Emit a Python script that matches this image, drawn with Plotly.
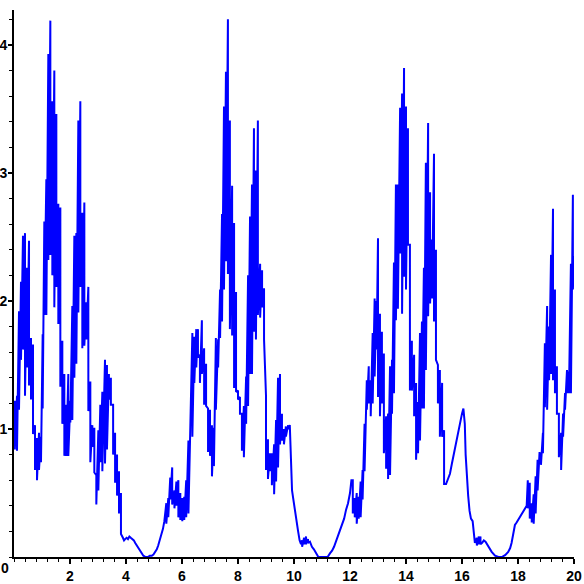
import plotly.graph_objects as go

# Samples: x position, upper and lower value of the trace in that column
x_pts = [0.03, 0.107, 0.179, 0.25, 0.321, 0.393, 0.464, 0.536, 0.607, 0.679, 0.75, 0.821, 0.893, 0.964,
         1.024, 1.083, 1.155, 1.226, 1.298, 1.369, 1.44, 1.512, 1.583, 1.655, 1.726, 1.798, 1.869, 1.94,
         2.012, 2.083, 2.155, 2.226, 2.298, 2.369, 2.44, 2.512, 2.583, 2.655, 2.726, 2.798, 2.869, 2.94,
         3.012, 3.083, 3.155, 3.25, 3.32, 3.39, 3.46, 3.54, 3.61, 3.68, 3.75, 3.82,
         3.89, 3.93, 3.97, 4.02, 4.07, 4.12, 4.17, 4.22, 4.28, 4.33, 4.39, 4.44, 4.50, 4.56, 4.62, 4.70,
         4.78, 4.85, 4.92, 4.98, 5.04, 5.10, 5.15, 5.21, 5.27, 5.32, 5.37,
         5.44, 5.51, 5.58, 5.65, 5.73, 5.80, 5.87, 5.94, 6.01, 6.08, 6.15, 6.23, 6.30, 6.37, 6.44, 6.51,
         6.57, 6.64, 6.71, 6.79, 6.86, 6.93, 7.00, 7.07, 7.14, 7.21, 7.29, 7.36, 7.43, 7.50, 7.57, 7.64,
         7.71, 7.79, 7.86, 7.93, 8.00, 8.07, 8.14, 8.21, 8.29, 8.36, 8.43, 8.50, 8.57, 8.64, 8.71, 8.79,
         8.86, 8.93, 9.00, 9.07, 9.14, 9.21, 9.29, 9.36, 9.43, 9.50, 9.57, 9.64, 9.71, 9.79,
         9.85, 9.87, 9.90, 9.93, 9.97, 10.00, 10.07, 10.14, 10.20, 10.25, 10.29, 10.36, 10.43, 10.50,
         10.57, 10.64, 10.71, 10.79, 10.87, 11.00, 11.20, 11.29, 11.36, 11.43, 11.50, 11.57, 11.64, 11.71,
         11.79, 11.86, 11.93, 12.00, 12.05,
         12.10, 12.17, 12.24, 12.31, 12.38, 12.45, 12.52, 12.60, 12.67, 12.74, 12.81, 12.88, 12.95, 13.00,
         13.07, 13.14, 13.21, 13.29, 13.36, 13.43, 13.50, 13.57, 13.64, 13.71, 13.79, 13.86, 13.93, 14.00,
         14.07, 14.14, 14.21, 14.29, 14.36, 14.43, 14.50, 14.57, 14.64, 14.71, 14.79, 14.86, 14.93, 15.00,
         15.07, 15.14, 15.21, 15.29, 15.36,
         15.43, 15.50, 15.57, 15.64, 15.71, 15.79, 15.86, 15.93, 16.00, 16.05, 16.10, 16.13, 16.17, 16.22,
         16.27, 16.32, 16.38, 16.42, 16.46, 16.53, 16.60, 16.66, 16.72, 16.78, 16.84, 16.94, 17.06, 17.18,
         17.30, 17.42, 17.54, 17.65, 17.72, 17.77, 17.83, 17.89, 17.95, 18.01, 18.13, 18.25, 18.31,
         18.35, 18.42, 18.49, 18.56, 18.63, 18.70, 18.77, 18.82, 18.89, 18.96, 19.04, 19.11, 19.18, 19.25,
         19.32, 19.39, 19.46, 19.54, 19.61, 19.68, 19.75, 19.82, 19.89, 19.96, 20.00]

y_top = [1.22, 1.26, 1.92, 2.15, 2.51, 2.53, 2.26, 2.47, 1.71, 1.66, 1.03, 0.93, 0.97, 0.94,
         1.74, 2.62, 2.95, 3.93, 4.19, 3.56, 3.80, 3.46, 2.76, 2.73, 1.69, 1.43, 1.19, 1.43,
         1.22, 1.96, 2.51, 2.53, 3.41, 3.56, 2.69, 2.77, 1.99, 2.11, 1.37, 1.03, 1.01, 0.64,
         0.99, 1.19, 1.29, 1.54, 1.50, 1.43, 1.40, 1.19, 0.97, 0.80, 0.67, 0.50,
         0.15, 0.13, 0.14, 0.15, 0.14, 0.16, 0.15, 0.14, 0.13, 0.11, 0.09, 0.07, 0.05, 0.03, 0.01, 0.0,
         0.0, 0.01, 0.01, 0.02, 0.04, 0.06, 0.09, 0.13, 0.18, 0.22, 0.28,
         0.42, 0.46, 0.62, 0.70, 0.52, 0.59, 0.60, 0.50, 0.46, 0.47, 0.60, 0.91, 1.17, 1.75, 1.72, 1.78,
         1.78, 1.58, 1.85, 1.63, 1.51, 1.16, 1.15, 1.03, 1.01, 1.71, 1.70, 2.09, 2.68, 3.52, 3.79, 4.20,
         3.41, 2.90, 2.61, 2.07, 1.30, 1.25, 1.12, 1.18, 1.41, 2.20, 2.66, 2.91, 3.35, 3.02, 3.41, 2.29,
         2.24, 2.10, 1.26, 0.92, 0.81, 0.81, 0.88, 1.07, 1.40, 1.43, 1.12, 1.00, 1.02, 1.03,
         1.03, 0.86, 0.66, 0.52, 0.46, 0.41, 0.32, 0.21, 0.13, 0.10, 0.13, 0.15, 0.16, 0.14,
         0.12, 0.08, 0.06, 0.03, 0.0, 0.0, 0.0, 0.03, 0.05, 0.08, 0.12, 0.16, 0.21, 0.25,
         0.30, 0.37, 0.42, 0.50, 0.60,
         0.60, 0.46, 0.50, 0.47, 0.59, 0.68, 1.04, 1.38, 1.49, 1.38, 1.75, 2.02, 2.00, 2.49,
         1.90, 1.76, 1.59, 1.10, 1.12, 1.49, 1.54, 2.30, 2.91, 2.91, 3.51, 3.62, 3.82, 3.52,
         3.35, 2.44, 1.69, 1.58, 1.36, 1.21, 1.75, 1.84, 2.26, 3.08, 3.39, 2.85, 2.48, 3.15,
         2.40, 1.50, 1.46, 1.36, 0.99,
         0.57, 0.61, 0.65, 0.73, 0.81, 0.89, 0.96, 1.04, 1.12, 1.16, 1.04, 0.80, 0.62, 0.48,
         0.36, 0.30, 0.28, 0.16, 0.11, 0.15, 0.16, 0.16, 0.11, 0.13, 0.12, 0.08, 0.04, 0.01,
         0.0, 0.0, 0.015, 0.04, 0.07, 0.11, 0.18, 0.25, 0.27, 0.29, 0.33, 0.37, 0.40,
         0.60, 0.58, 0.42, 0.49, 0.63, 0.76, 0.82, 0.81, 0.97, 1.67, 1.96, 1.80, 2.36, 2.72,
         2.09, 1.49, 1.12, 0.97, 1.12, 1.28, 1.46, 1.45, 2.29, 2.83, 2.35]

y_bot = [0.84, 0.83, 1.15, 1.54, 1.62, 1.26, 1.48, 1.34, 1.23, 0.96, 0.68, 0.60, 0.68, 0.74,
         1.16, 1.89, 1.89, 2.32, 2.36, 2.20, 1.95, 2.11, 1.82, 1.33, 1.04, 0.79, 0.79, 0.79,
         1.05, 1.07, 1.40, 1.51, 1.91, 2.11, 1.63, 1.65, 1.70, 1.14, 0.74, 0.86, 0.66, 0.41,
         0.52, 0.74, 0.67, 0.73, 0.84, 1.23, 1.19, 0.80, 0.58, 0.48, 0.34, 0.18,
         0.15, 0.13, 0.14, 0.15, 0.14, 0.16, 0.15, 0.14, 0.13, 0.11, 0.09, 0.07, 0.05, 0.03, 0.01, 0.0,
         0.0, 0.01, 0.01, 0.02, 0.04, 0.06, 0.09, 0.13, 0.18, 0.22, 0.28,
         0.26, 0.31, 0.45, 0.41, 0.38, 0.40, 0.31, 0.29, 0.28, 0.29, 0.31, 0.34, 0.91, 0.94, 1.36, 1.48,
         1.56, 1.36, 1.43, 1.19, 1.18, 0.82, 0.79, 0.63, 0.71, 1.15, 1.48, 1.71, 1.84, 2.09, 2.31, 2.21,
         1.78, 1.73, 1.32, 1.29, 1.23, 1.12, 0.83, 0.78, 1.04, 1.18, 1.43, 1.43, 1.76, 1.70, 1.89, 1.87,
         1.95, 1.70, 0.68, 0.61, 0.67, 0.56, 0.49, 0.59, 0.70, 0.88, 0.91, 0.88, 0.94, 1.00,
         1.03, 0.86, 0.66, 0.52, 0.46, 0.41, 0.32, 0.21, 0.13, 0.10, 0.08, 0.10, 0.10, 0.11,
         0.12, 0.08, 0.06, 0.03, 0.0, 0.0, 0.0, 0.03, 0.05, 0.08, 0.12, 0.16, 0.21, 0.25,
         0.30, 0.37, 0.42, 0.50, 0.60,
         0.34, 0.31, 0.26, 0.30, 0.31, 0.45, 0.67, 1.15, 1.20, 1.10, 1.20, 1.41, 1.62, 1.25,
         1.10, 1.20, 0.81, 0.69, 0.61, 0.64, 1.12, 1.28, 1.85, 1.94, 2.37, 1.90, 2.19, 2.09,
         2.44, 1.30, 1.30, 1.10, 0.76, 0.81, 0.91, 1.16, 1.16, 1.46, 1.88, 1.98, 2.02, 1.84,
         1.54, 1.20, 0.94, 0.94, 0.57,
         0.57, 0.61, 0.65, 0.73, 0.81, 0.89, 0.96, 1.04, 1.12, 1.16, 1.04, 0.80, 0.62, 0.48,
         0.36, 0.30, 0.28, 0.16, 0.11, 0.09, 0.10, 0.10, 0.11, 0.13, 0.12, 0.08, 0.04, 0.01,
         0.0, 0.0, 0.015, 0.04, 0.07, 0.11, 0.18, 0.25, 0.27, 0.29, 0.33, 0.37, 0.40,
         0.38, 0.30, 0.27, 0.26, 0.34, 0.52, 0.76, 0.72, 0.81, 1.17, 1.15, 1.38, 1.43, 1.38,
         1.28, 1.12, 0.78, 0.68, 0.94, 1.15, 1.28, 1.28, 1.28, 2.09, 2.35]

x_ticks = [2, 4, 6, 8, 10, 12, 14, 16, 18, 20]
y_ticks = [1, 2, 3, 4]

# Polyline through each column's upper and lower value
line_x, line_y = [], []
for xv, hi, lo in zip(x_pts, y_top, y_bot):
    line_x.append(xv)
    line_y.append(hi)
    if lo != hi:
        line_x.append(xv)
        line_y.append(lo)

fig = go.Figure()
fig.add_trace(go.Scatter(x=line_x, y=line_y, mode="lines", cliponaxis=False,
                         line=dict(color="#0000FF", width=2), hoverinfo="skip"))

tick_font = dict(family="Liberation Sans, Arial, sans-serif", size=14, color="black", weight="bold")

fig.update_layout(
    width=584, height=584,
    margin=dict(l=14, r=10, t=10, b=27, autoexpand=False),
    paper_bgcolor="white", plot_bgcolor="white",
    showlegend=False,
    xaxis=dict(range=[0, 20], tickvals=x_ticks, ticktext=[str(v) for v in x_ticks], automargin=False,
               showgrid=False, zeroline=False, showline=True, linecolor="black", linewidth=2,
               ticks="outside", ticklen=5, tickwidth=1.5, tickcolor="black", tickfont=tick_font,
               minor=dict(dtick=0.4, tick0=0, ticks="outside", ticklen=3, tickwidth=1, tickcolor="black"),
               fixedrange=True),
    yaxis=dict(range=[0, 4.273], tickvals=y_ticks, ticktext=[str(v) for v in y_ticks], automargin=False,
               showgrid=False, zeroline=False, showline=True, linecolor="black", linewidth=2,
               ticks="outside", ticklen=4, tickwidth=1.5, tickcolor="black", tickfont=tick_font,
               ticklabelstandoff=-2,
               minor=dict(dtick=0.2, tick0=0, ticks="outside", ticklen=3, tickwidth=1, tickcolor="black"),
               fixedrange=True),
    annotations=[dict(text="0", x=0, y=0, xref="x", yref="y", xanchor="right", yanchor="top",
                      xshift=-3, yshift=-1, showarrow=False, font=tick_font)],
)

fig.write_html("out.html", config={"displayModeBar": False},
               post_script="document.body.style.margin='0';document.body.style.overflow='hidden';")
